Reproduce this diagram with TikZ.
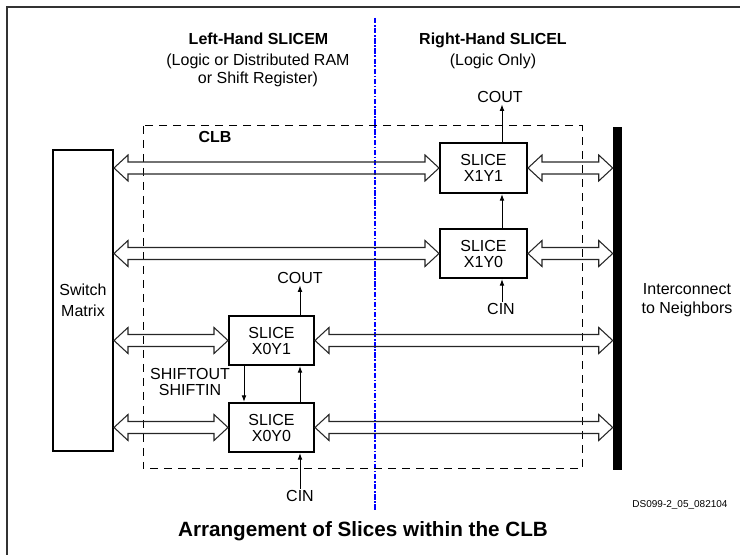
\documentclass[tikz,border=0pt]{standalone}
\usepackage{fontspec}
\setmainfont{Liberation Sans}
\usetikzlibrary{calc,arrows.meta}
\tikzset{
  slicebox/.style={draw,line width=1.5pt,align=center,inner sep=0pt,font=\fontsize{12pt}{12pt}\selectfont},
  fatline/.style={draw=black!85,line width=0.8pt,line join=miter},
  thinarrow/.style={draw,line width=0.75pt,-{Latex[length=5pt,width=3.6pt]}},
  lbl/.style={font=\fontsize{12pt}{14pt}\selectfont,anchor=mid,inner sep=1pt},
  blbl/.style={font=\fontsize{12pt}{14pt}\selectfont\bfseries,anchor=mid,inner sep=1pt},
}
\newcommand{\fatdarrow}[2]{%
  \draw[fatline] let \p1=(#1), \p2=(#2) in
  (\x1,\y1) -- (\x1+10.5pt,\y1+9.75pt) -- (\x1+10.5pt,\y1+4.5pt) -- (\x2-10.5pt,\y1+4.5pt)
  -- (\x2-10.5pt,\y1+9.75pt) -- (\x2,\y1) -- (\x2-10.5pt,\y1-9.75pt) -- (\x2-10.5pt,\y1-4.5pt)
  -- (\x1+10.5pt,\y1-4.5pt) -- (\x1+10.5pt,\y1-9.75pt) -- cycle;}
\begin{document}
\begin{tikzpicture}[x=0.75pt,y=-0.75pt]
\useasboundingbox (0,0) rectangle (740,555);
% frame
\draw[black!80,line width=1.1pt] (740,7) -- (7,7) -- (7,555);
% blue divider
\draw[blue,line width=1.5pt,dash pattern=on 4pt off 1.2pt on 1.2pt off 1.2pt] (375,18) -- (375,511);
% CLB dashed box
\draw[line width=0.75pt,dash pattern=on 6pt off 4.5pt] (143,126) rectangle (582,469);
\node[blbl] (clb) at (215,139) {CLB};
% titles
\node[blbl] (lt1) at (258.5,41) {Left-Hand SLICEM};
\node[lbl] (lt2) at (258,62) {(Logic or Distributed RAM};
\node[lbl] (lt3) at (258,80) {or Shift Register)};
\node[blbl] (rt1) at (493,41) {Right-Hand SLICEL};
\node[lbl] (rt2) at (493,62) {(Logic Only)};
% switch matrix
\node[draw,line width=1.5pt,minimum width=45pt,minimum height=225.75pt,align=center,
  font=\fontsize{12pt}{15.75pt}\selectfont] (sm) at (83,300.5) {Switch\\Matrix};
% interconnect bar
\node[fill=black,inner sep=0pt,minimum width=6.75pt,minimum height=257.25pt] (bar) at (617.5,298.5) {};
\node[align=center,font=\fontsize{12pt}{13.75pt}\selectfont] (ic) at (687,300) {Interconnect\\to Neighbors};
% slices
\node[slicebox,minimum width=65.25pt,minimum height=37.5pt] (x1y1) at (483.5,168) {SLICE\\X1Y1};
\node[slicebox,minimum width=65.25pt,minimum height=36.75pt] (x1y0) at (483.5,253.5) {SLICE\\X1Y0};
\node[slicebox,minimum width=63.75pt,minimum height=36.75pt] (x0y1) at (271.5,340.5) {SLICE\\X0Y1};
\node[slicebox,minimum width=63.75pt,minimum height=36.75pt] (x0y0) at (271.5,427.5) {SLICE\\X0Y0};
% fat double arrows
\fatdarrow{sm.east |- x1y1}{x1y1.west}
\fatdarrow{x1y1.east}{bar.west |- x1y1}
\fatdarrow{sm.east |- x1y0}{x1y0.west}
\fatdarrow{x1y0.east}{bar.west |- x1y0}
\fatdarrow{sm.east |- x0y1}{x0y1.west}
\fatdarrow{x0y1.east}{bar.west |- x0y1}
\fatdarrow{sm.east |- x0y0}{x0y0.west}
\fatdarrow{x0y0.east}{bar.west |- x0y0}
% carry / shift
\coordinate (cx1) at (502,0);
\coordinate (cx0) at (300,0);
\coordinate (sx0) at (244,0);
\node[lbl] (cout1) at (500,99) {COUT};
\node[lbl] (cin1) at (501,311) {CIN};
\node[lbl] (cout0) at (300,280) {COUT};
\node[lbl] (cin0) at (300,498) {CIN};
\draw[thinarrow] (x1y1.north -| cx1) -- (cout1.south -| cx1);
\draw[thinarrow] (x1y0.north -| cx1) -- (x1y1.south -| cx1);
\draw[thinarrow] (cin1.north -| cx1) -- (x1y0.south -| cx1);
\draw[thinarrow] (x0y1.north -| cx0) -- (cout0.south -| cx0);
\draw[thinarrow] (x0y0.north -| cx0) -- (x0y1.south -| cx0);
\draw[thinarrow] (cin0.north -| cx0) -- (x0y0.south -| cx0);
\draw[thinarrow] (x0y1.south -| sx0) -- (x0y0.north -| sx0);
\node[lbl] (sout) at (190,376) {SHIFTOUT};
\node[lbl] (sin) at (190,392) {SHIFTIN};
% footer
\node[font=\fontsize{7.5pt}{8pt}\selectfont,anchor=mid] (ds) at (680,504) {DS099-2\_05\_082104};
\node[font=\fontsize{15.5pt}{18pt}\selectfont\bfseries,anchor=mid] (title) at (363,533) {Arrangement of Slices within the CLB};
\end{tikzpicture}
\end{document}
